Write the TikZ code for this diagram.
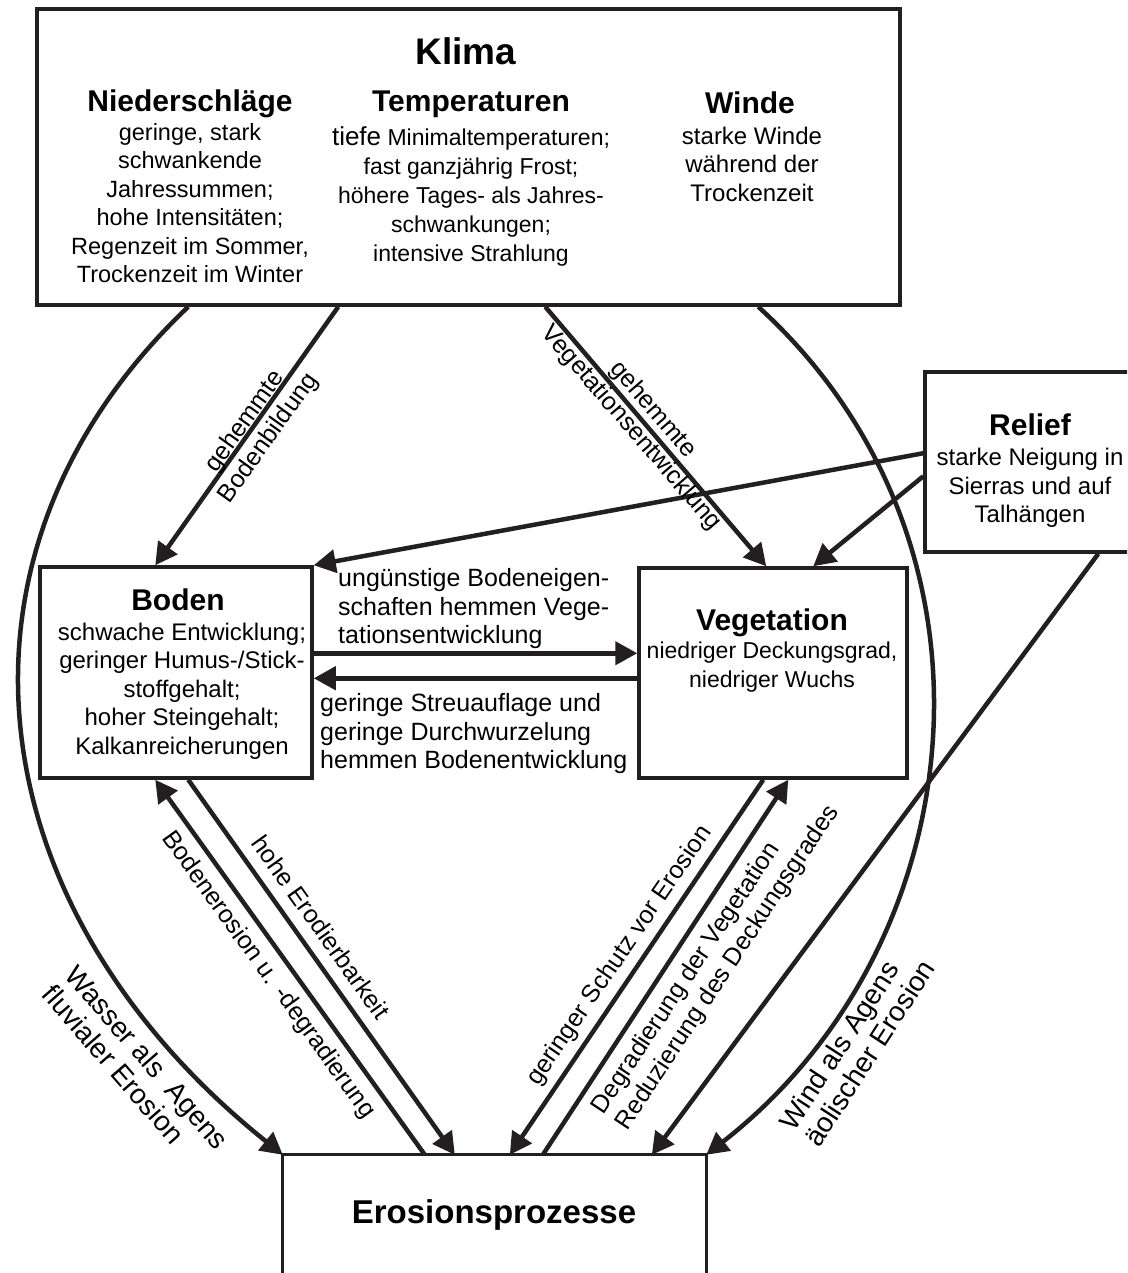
\documentclass[tikz,border=0pt]{standalone}
\usepackage{fontspec}
\setmainfont{Liberation Sans}
\usetikzlibrary{arrows.meta,calc}
\definecolor{ink}{RGB}{35,31,32}
\tikzset{
  box/.style={draw=ink, line width=3.5pt, rectangle, inner sep=0pt},
  arr/.style={draw=ink, line width=4.5pt, -{Triangle[length=22pt,width=23pt]}},
  hd/.style={font=\fontsize{30}{36}\selectfont\bfseries, inner sep=0pt, anchor=base},
  bd/.style={font=\fontsize{24}{28.5}\selectfont, align=center, inner sep=0pt},
  lb/.style={font=\fontsize{25}{28.5}\selectfont, align=center, inner sep=0pt},
  lbig/.style={font=\fontsize{28}{30}\selectfont, align=left, inner sep=0pt},
}
\begin{document}
\begin{tikzpicture}[x=1pt,y=-1pt]
\useasboundingbox (0,0) rectangle (1127,1273);
\clip (0,0) rectangle (1127,1273);
\fill[white] (0,0) rectangle (1127,1273);

% boxes
\node[box, minimum width=863pt, minimum height=296pt] (klima) at (468.5,157) {};
\node[box, minimum width=215pt, minimum height=180pt] (relief) at (1032.5,462) {};
\node[box, minimum width=272pt, minimum height=211pt] (boden) at (176,672.5) {};
\node[box, minimum width=268pt, minimum height=210pt] (veg) at (773,673) {};
\node[inner sep=0pt, minimum width=423pt, minimum height=118pt] (eros) at (494.5,1214) {};
\draw[ink, line width=3pt] (eros.south west) -- (eros.north west) -- (eros.north east) -- (eros.south east);

% texts in Klima
\node[font=\fontsize{37}{44}\selectfont\bfseries, inner sep=0pt, anchor=base] (tklima) at (466,65) {Klima};
\node[hd] (tnied) at (190,112) {Niederschläge};
\node[bd, font=\fontsize{23.5}{28.5}\selectfont] (bnied) at (190,203) {geringe, stark\\schwankende\\Jahressummen;\\hohe Intensitäten;\\Regenzeit im Sommer,\\Trockenzeit im Winter};
\node[hd] (ttemp) at (471,112) {Temperaturen};
\node[bd, font=\fontsize{23}{29}\selectfont] (btemp) at (471,196) {{\fontsize{26}{29}\selectfont tiefe} Minimaltemperaturen;\\fast ganzjährig Frost;\\höhere Tages- als Jahres-\\schwankungen;\\intensive Strahlung};
\node[hd] (twinde) at (750,114) {Winde};
\node[bd] (bwinde) at (752,164) {starke Winde\\während der\\Trockenzeit};

% Relief
\node[hd] (trelief) at (1030,435) {Relief};
\node[bd] (brelief) at (1030,488) {starke Neigung in\\Sierras und auf\\Talhängen};

% Boden
\node[hd] (tboden) at (178,610) {Boden};
\node[bd] (bboden) at (182,691) {schwache Entwicklung;\\geringer Humus-/Stick-\\stoffgehalt;\\hoher Steingehalt;\\Kalkanreicherungen};

% Vegetation
\node[hd] (tveg) at (772,630) {Vegetation};
\node[bd, font=\fontsize{23}{29}\selectfont] (bveg) at (772,667) {niedriger Deckungsgrad,\\niedriger Wuchs};

% Erosion
\node[font=\fontsize{33}{40}\selectfont\bfseries, inner sep=0pt, anchor=base] (teros) at (494,1223) {Erosionsprozesse};

% connectors
\draw[arr] ($(klima.south west)+(303,0)$) -- ($(boden.north west)+(117,0)$);
\draw[arr] ($(klima.south west)+(510,0)$) -- ($(veg.north west)+(129,0)$);
\draw[arr] ($(relief.north west)+(0,83)$) -- (boden.north east);
\draw[arr] ($(relief.north west)+(0,106)$) -- ($(veg.north west)+(176,0)$);
\draw[arr] ($(relief.south west)+(175,0)$) -- ($(eros.north west)+(369,0)$);
\draw[arr] ($(boden.north east)+(0,88)$) -- ($(veg.north west)+(0,87)$);
\draw[arr] ($(veg.north west)+(0,112)$) -- ($(boden.north east)+(0,113)$);
\draw[arr] ($(boden.south west)+(150,0)$) -- ($(eros.north west)+(172,0)$);
\draw[arr] ($(eros.north west)+(142,0)$) -- ($(boden.south west)+(117,0)$);
\draw[arr] ($(veg.south west)+(126,0)$) -- ($(eros.north west)+(227,0)$);
\draw[arr] ($(eros.north west)+(260,0)$) -- ($(veg.south west)+(151,0)$);
\draw[arr] ($(klima.south west)+(153,0)$) .. controls (-70,552) and (-27,907) .. (eros.north west);
\draw[arr] ($(klima.south west)+(723,0)$) .. controls (1019,544) and (975,945) .. (eros.north east);

% connector labels
\node[lb, rotate=54.4] (l1) at (257,430) {gehemmte\\Bodenbildung};
\node[lb, rotate=-49.1] (l2) at (642,419) {gehemmte\\Vegetationsentwicklung};
\node[lb, align=left, anchor=west] (l3) at (338,609) {ungünstige Bodeneigen-\\schaften hemmen Vege-\\tationsentwicklung};
\node[lb, align=left, anchor=west] (l4) at (320,734) {geringe Streuauflage und\\geringe Durchwurzelung\\hemmen Bodenentwicklung};
\node[lb, rotate=-54.2] (l5) at (268,975) {Bodenerosion u. -degradierung};
\node[lb, rotate=-54.5] (l6) at (321,927) {hohe Erodierbarkeit};
\node[lb, rotate=55.6] (l7) at (620,956) {geringer Schutz vor Erosion};
\node[lb, rotate=56.5, align=left] (l8) at (716,960) {Degradierung der Vegetation\\Reduzierung des Deckungsgrades};
\node[lbig, rotate=57] (l9) at (857,1045) {Wind als Agens\\äolischer Erosion};
\node[lbig, rotate=-49] (l10) at (136,1067) {Wasser als\ \ Agens\\fluvialer Erosion};
\end{tikzpicture}
\end{document}
